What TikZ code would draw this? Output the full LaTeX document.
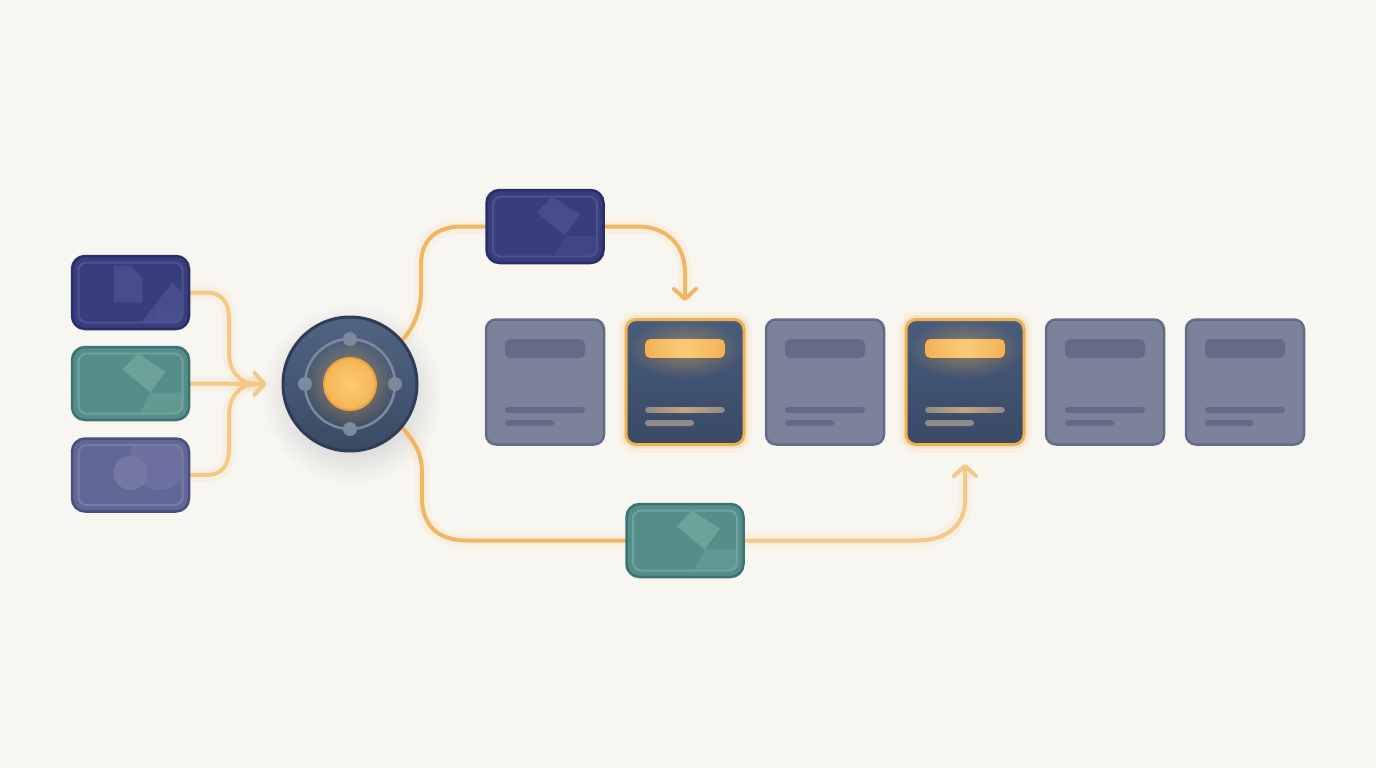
\documentclass[tikz,border=0pt]{standalone}
\usetikzlibrary{arrows.meta,calc,positioning,fadings}

\definecolor{paper}{HTML}{F8F6F1}
\definecolor{navyline}{HTML}{2A2E66}
\definecolor{navyfill}{HTML}{383D7B}
\definecolor{navyin}{HTML}{4D5392}
\definecolor{navydeco}{HTML}{474C8C}
\definecolor{tealline}{HTML}{3E7272}
\definecolor{tealfill}{HTML}{548D89}
\definecolor{tealin}{HTML}{6FA49D}
\definecolor{tealdeco}{HTML}{6CA29A}
\definecolor{slateline}{HTML}{4A4F7F}
\definecolor{slatefill}{HTML}{626896}
\definecolor{slatein}{HTML}{777CA7}
\definecolor{slatedeco}{HTML}{7378A5}
\definecolor{cardline}{HTML}{646B8A}
\definecolor{cardfill}{HTML}{7B8299}
\definecolor{cardbar}{HTML}{646B88}
\definecolor{hotline}{HTML}{EFB04F}
\definecolor{hottop}{HTML}{485C7D}
\definecolor{hotbot}{HTML}{394966}
\definecolor{hotbar}{HTML}{F2B254}
\definecolor{hotbarmid}{HTML}{FBCB7A}
\definecolor{hotrule}{HTML}{8F8B89}
\definecolor{hotrulemid}{HTML}{C4A67E}
\definecolor{wirec}{HTML}{F1B65F}
\definecolor{softwire}{HTML}{F6C887}
\definecolor{glow}{HTML}{F5B04A}
\definecolor{hubline}{HTML}{2E3C57}
\definecolor{hubtop}{HTML}{506582}
\definecolor{hubbot}{HTML}{3A4A64}
\definecolor{ringc}{HTML}{7E899C}
\definecolor{coreline}{HTML}{E8A445}
\definecolor{coreinner}{HTML}{FCCB75}
\definecolor{coreouter}{HTML}{F6B455}
\definecolor{hubshade}{HTML}{56607E}

\pgfdeclarelayer{back}
\pgfsetlayers{back,main}
\tikzfading[name=softglow, inner color=transparent!0, outer color=transparent!100]

\tikzset{
  chip/.style={rectangle, draw, rounded corners=13pt, minimum width=117pt, minimum height=73pt, line width=2.5pt},
  card/.style={rectangle, rounded corners=10pt, minimum width=118pt, minimum height=125pt, line width=2.5pt, draw=cardline, fill=cardfill},
  hotcard/.style={card, draw=hotline, line width=3pt, top color=hottop, bottom color=hotbot,
    preaction={draw=glow, line width=16pt, opacity=.08}, preaction={draw=glow, line width=9pt, opacity=.14}},
  wire/.style={draw=wirec, line width=4pt, line cap=round, preaction={draw=glow, -, line width=14pt, opacity=.08}},
  barb/.style={-{Straight Barb[length=10pt,width=22pt,round]}},
  haze/.style={path fading=softglow},
  kitemark/.pic={
    \begin{scope}
      \clip[rounded corners=8pt] (-52,-30) rectangle (52,30);
      \fill (-8,-14) -- (7,-30) -- (35,-12) -- (20,9) -- cycle;
      \fill[opacity=.55] (20,9) -- (52,9) -- (52,32) -- (8,32) -- cycle;
    \end{scope}
  },
}

\begin{document}
\begin{tikzpicture}[x=1pt,y=-1pt]
  \begin{pgfonlayer}{back}
    \fill[paper] (0,0) rectangle (1376,768);
  \end{pgfonlayer}
  \useasboundingbox (0,0) rectangle (1376,768);

  % inputs and routed chips
  \node[chip, draw=navyline, fill=navyfill] (srcA) at (130.5,292.5) {};
  \node[chip, draw=tealline, fill=tealfill] (srcB) at (130.5,383.5) {};
  \node[chip, draw=slateline, fill=slatefill] (srcC) at (130.5,475) {};
  \node[chip, draw=navyline, fill=navyfill] (routeA) at (545,226.5) {};
  \node[chip, draw=tealline, fill=tealfill] (routeB) at (685,540.5) {};

  \begin{scope}[shift={(srcA)}]
    \clip[rounded corners=8pt] (-52,-30) rectangle (52,30);
    \fill[navydeco] (-17,-27) -- (0,-27) -- (12,-14) -- (12,10) -- (-17,10) -- cycle;
    \fill[navydeco] (11,30) -- (42,-10) -- (52,0) -- (52,30) -- cycle;
    \fill[navyin, opacity=.6, rounded corners=4pt] (26,19) rectangle (52,30);
  \end{scope}
  \begin{scope}[shift={(srcC)}]
    \clip[rounded corners=8pt] (-52,-30) rectangle (52,30);
    \fill[slatedeco, opacity=.6] (28,-15) circle (30);
    \fill[slatedeco] (0,-2) circle (17);
  \end{scope}
  \pic[color=tealdeco] at (srcB) {kitemark};
  \pic[color=navydeco] at (routeA) {kitemark};
  \pic[color=tealdeco] at (routeB) {kitemark};

  \foreach \n/\c in {srcA/navyin, srcB/tealin, srcC/slatein, routeA/navyin, routeB/tealin}
    \draw[\c, line width=2pt, rounded corners=8pt] ($(\n)+(-52,-30)$) rectangle ($(\n)+(52,30)$);

  % hub
  \node[circle, minimum size=134pt, draw=hubline, line width=3pt, top color=hubtop, bottom color=hubbot] (hub) at (350,384) {};
  \fill[glow, opacity=.55, haze] (hub) circle (44);
  \draw[ringc, line width=2.5pt] (hub) circle (45);
  \foreach \a in {0,90,180,270}
    \fill[ringc] ($(hub)+(\a:45)$) circle (7);
  \node[circle, minimum size=52pt, draw=coreline, line width=2pt, inner color=coreinner, outer color=coreouter] (core) at (hub) {};

  % cards
  \foreach \i/\kind in {1/card,2/hotcard,3/card,4/hotcard,5/card,6/card}
    \node[\kind] (card\i) at ({405+140*\i},382) {};
  \foreach \i in {1,3,5,6} {
    \fill[cardbar, rounded corners=5pt] ($(card\i)+(-40,-43)$) rectangle ($(card\i)+(40,-24)$);
    \fill[cardbar, rounded corners=3pt] ($(card\i)+(-40,25)$) rectangle ($(card\i)+(40,31)$);
    \fill[cardbar, rounded corners=3pt] ($(card\i)+(-40,38)$) rectangle ($(card\i)+(9,44)$);
  }
  \foreach \i in {2,4} {
    \fill[glow, opacity=.45, haze] ($(card\i)+(0,-33)$) ellipse (58 and 30);
    \fill[rounded corners=5pt, left color=hotbar, right color=hotbar, middle color=hotbarmid] ($(card\i)+(-40,-43)$) rectangle ($(card\i)+(40,-24)$);
    \fill[rounded corners=3pt, left color=hotrule, right color=hotrule, middle color=hotrulemid] ($(card\i)+(-40,25)$) rectangle ($(card\i)+(40,31)$);
    \fill[rounded corners=3pt, hotrule] ($(card\i)+(-40,38)$) rectangle ($(card\i)+(9,44)$);
  }

  \coordinate (join) at ($(hub.west)+(-15,0)$);
  \coordinate (merge) at ($(join)+(-9,0)$);
  \coordinate (tipA) at ($(card2.north)+(0,-17)$);
  \coordinate (tipB) at ($(card4.south)+(0,18)$);

  \begin{pgfonlayer}{back}
    \fill[hubshade, opacity=.45, haze] ($(hub)+(2,10)$) circle (90);
    \draw[wire, draw=softwire] (srcA.east) -- (207,292.5) .. controls (221,292.5) and (229,302) .. (229,318) -- (229,352) .. controls (229,370) and (238,384) .. (merge);
    \draw[wire, draw=softwire] (srcC.east) -- (207,475) .. controls (221,475) and (229,466) .. (229,450) -- (229,416) .. controls (229,398) and (238,384) .. (merge);
    \draw[wire, draw=softwire, barb] (srcB.east) -- (join);
    \draw[wire] (hub.40) .. controls (413,328) and (421,312) .. (421,290) -- (421,265) .. controls (421,240) and (436,226.5) .. (462,226.5) -- (routeA.west);
    \draw[wire, barb] (routeA.east) -- (638,226.5) .. controls (666,226.5) and (685,245) .. (685,272) -- (tipA);
    \draw[wire] (hub.-40) .. controls (413,440) and (422,452) .. (422,472) -- (422,498) .. controls (422,525) and (438,540.5) .. (466,540.5) -- (routeB.west);
    \draw[wire, draw=softwire, barb] (routeB.east) -- (917,540.5) .. controls (947,540.5) and (965,525) .. (965,500) -- (tipB);
  \end{pgfonlayer}
\end{tikzpicture}
\end{document}
